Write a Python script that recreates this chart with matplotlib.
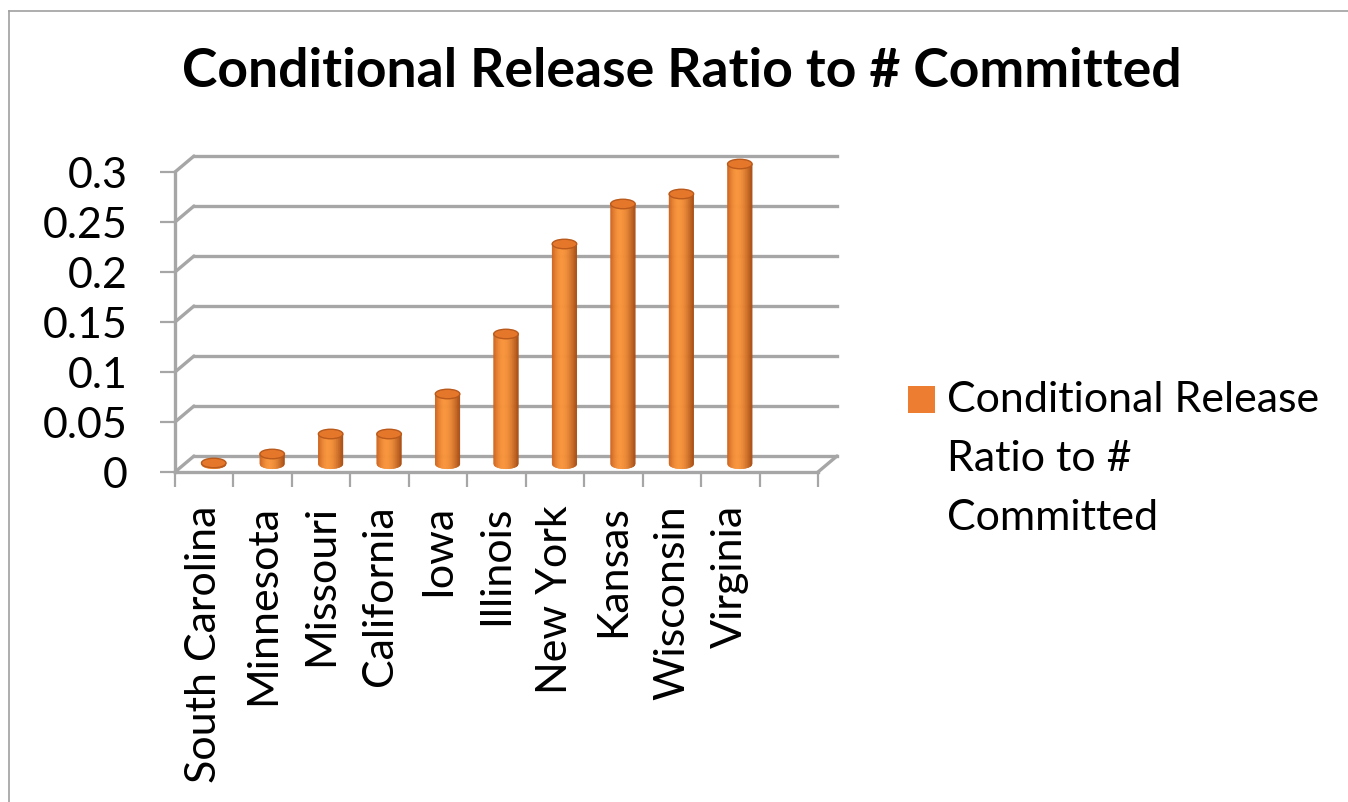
import numpy as np
import matplotlib.pyplot as plt
from matplotlib import transforms
from matplotlib.patches import Ellipse, Polygon, Rectangle, ConnectionPatch

plt.rcParams['font.family'] = ['Lato', 'DejaVu Sans']

# data
states = ['South Carolina', 'Minnesota', 'Missouri', 'California', 'Iowa',
          'Illinois', 'New York', 'Kansas', 'Wisconsin', 'Virginia']
ratio = [0.001, 0.01, 0.03, 0.03, 0.07, 0.13, 0.22, 0.26, 0.27, 0.30]
yticks = [0, 0.05, 0.1, 0.15, 0.2, 0.25, 0.3]
ytick_labels = ['0', '0.05', '0.1', '0.15', '0.2', '0.25', '0.3']
series_name = 'Conditional Release\nRatio to #\nCommitted'
title = 'Conditional Release Ratio to # Committed'

n_slots = len(states) + 1   # excel leaves an empty slot at the end
W, H = 1348, 802
GRID = '#a6a6a6'

fig = plt.figure(figsize=(W / 100, H / 100), dpi=100)

# front plane of the 3d box in pixels
fx0, fx1, fy0, fy1 = 175, 818, 472, 172
ax = fig.add_axes([fx0 / W, 1 - fy0 / H, (fx1 - fx0) / W, (fy0 - fy1) / H])
ax.set_xlim(0, n_slots)
ax.set_ylim(0, 0.3)
ax.set_autoscale_on(False)
ax.set_facecolor('none')

# depth offsets (back wall and middle of the box)
back = transforms.offset_copy(ax.transData, fig=fig, x=19, y=16, units='dots')
mid = transforms.offset_copy(ax.transData, fig=fig, x=9.5, y=8, units='dots')

# back wall gridlines + left wall diagonals
for v in yticks:
    ax.plot([0, n_slots], [v, v], color=GRID, lw=2.4, transform=back,
            clip_on=False, zorder=1)
    ax.add_artist(ConnectionPatch((0, v), (0, v), coordsA=ax.transData,
                                  coordsB=back, color=GRID, lw=2.4, zorder=1))
ax.add_artist(ConnectionPatch((n_slots, 0), (n_slots, 0), coordsA=ax.transData,
                              coordsB=back, color=GRID, lw=2.4, zorder=1))

# axes, ticks
for s in ['top', 'right']:
    ax.spines[s].set_visible(False)
for s in ['left', 'bottom']:
    ax.spines[s].set_color(GRID)
    ax.spines[s].set_linewidth(2.4)
    ax.spines[s].set_zorder(1)
ax.set_yticks(yticks)
ax.set_yticklabels(ytick_labels)
ax.set_xticks(np.arange(n_slots + 1))
ax.set_xticklabels([])
ax.set_xticks(np.arange(len(states)) + 0.5, minor=True)
ax.set_xticklabels(states, minor=True, rotation=90)
ax.tick_params(axis='y', length=11, width=1.6, color=GRID, pad=23, labelsize=31)
ax.tick_params(axis='x', which='major', length=11, width=1.6, color=GRID)
ax.tick_params(axis='x', which='minor', length=0, pad=24, labelsize=31)

# cylinders
w = 0.42
eh = 0.0095
light = np.array([0xf8, 0x95, 0x3d]) / 255
dark_l = np.array([0xcc, 0x62, 0x1e]) / 255
dark_r = np.array([0xa8, 0x4e, 0x16]) / 255
nstrip = 36
for i, v in enumerate(ratio):
    cx = i + 0.5
    xs = np.linspace(cx - w / 2, cx + w / 2, nstrip + 1)
    for k in range(nstrip):
        xa, xb = xs[k], xs[k + 1]
        t = (k + 0.5) / nstrip
        if t < 0.4:
            c = dark_l + (light - dark_l) * np.sin(t / 0.4 * np.pi / 2)
        else:
            c = light + (dark_r - light) * (1 - np.cos((t - 0.4) / 0.6 * np.pi / 2))
        ya = -eh / 2 * np.sqrt(max(0.0, 1 - ((xa - cx) / (w / 2)) ** 2))
        yb = -eh / 2 * np.sqrt(max(0.0, 1 - ((xb - cx) / (w / 2)) ** 2))
        ax.add_patch(Polygon([(xa, ya), (xb, yb), (xb, v), (xa, v)], closed=True,
                             fc=c, ec=c, lw=0.4, transform=mid, clip_on=False,
                             zorder=3))
    ax.add_patch(Ellipse((cx, v), w, eh, fc='#e5772a', ec='#b9591b', lw=1.0,
                         transform=mid, clip_on=False, zorder=4))

# title
fig.text(682 / W, 1 - 87 / H, title, ha='center', va='baseline',
         fontsize=38.5, fontweight='bold')

# legend
fig.add_artist(Rectangle((908 / W, 1 - 413 / H), 27 / W, 27 / H,
                         transform=fig.transFigure, fc='#ed7d31', ec='none'))
fig.text(947 / W, 1 - 381 / H, series_name, ha='left', va='top',
         fontsize=31, linespacing=1.68)

# outer frame (only left and top visible in the crop)
fig.add_artist(plt.Line2D([9 / W, 9 / W], [0, 1 - 11 / H], color='#a0a0a0',
                          lw=1.2, transform=fig.transFigure))
fig.add_artist(plt.Line2D([9 / W, 1], [1 - 11 / H, 1 - 11 / H], color='#a0a0a0',
                          lw=1.2, transform=fig.transFigure))

fig.savefig('out.png', dpi=100)
